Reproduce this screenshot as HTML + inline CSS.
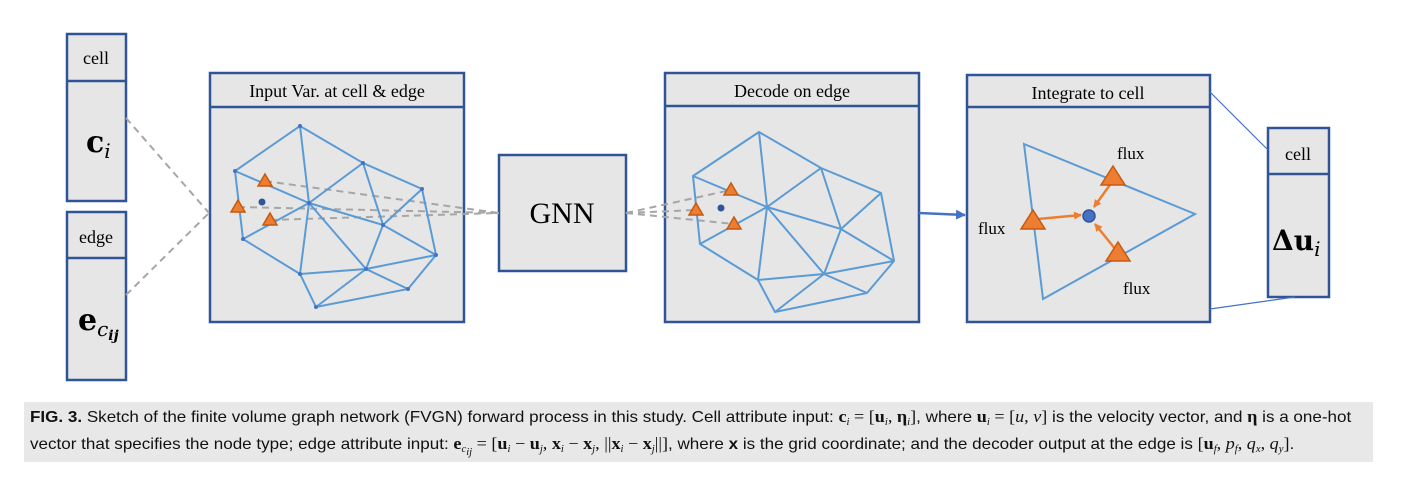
<!DOCTYPE html>
<html><head><meta charset="utf-8"><style>
body{margin:0;background:#fff;width:1403px;height:481px;overflow:hidden;position:relative;font-family:"Liberation Serif",serif}
.cap{position:absolute;left:24px;top:402px;width:1349px;height:60px;background:#e8e8e8}
.cap p{margin:0;position:absolute;left:6px;font-family:"Liberation Sans",sans-serif;font-size:16px;line-height:18px;color:#111;white-space:nowrap;transform:scaleX(1.065);transform-origin:left}
.m{font-family:"Liberation Serif",serif;font-size:17px}
sub{font-size:10px;line-height:0;vertical-align:-3px}
</style></head><body>
<svg width="1403" height="400" style="position:absolute;left:0;top:0" font-family="Liberation Serif, serif">
<defs><marker id="ob" markerWidth="8" markerHeight="8" refX="7" refY="4" orient="auto" markerUnits="userSpaceOnUse"><path d="M0,0L8,4L0,8z" fill="#ed7d31"/></marker>
<marker id="bb" markerWidth="10" markerHeight="10" refX="9" refY="5" orient="auto" markerUnits="userSpaceOnUse"><path d="M0,0L10,5L0,10z" fill="#4472c4"/></marker></defs>
<g fill="#e6e6e6" stroke="#2f5597" stroke-width="2.5">
<rect x="67" y="34" width="59" height="167"/><line x1="67" y1="81" x2="126" y2="81"/>
<rect x="67" y="212" width="59" height="168"/><line x1="67" y1="258" x2="126" y2="258"/>
<rect x="210" y="73" width="254" height="249"/><line x1="210" y1="107" x2="464" y2="107"/>
<rect x="499" y="155" width="127" height="116"/>
<rect x="665" y="73" width="254" height="249"/><line x1="665" y1="106" x2="919" y2="106"/>
<rect x="967" y="75" width="243" height="247"/><line x1="967" y1="107" x2="1210" y2="107"/>
<rect x="1268" y="128" width="61" height="169"/><line x1="1268" y1="174" x2="1329" y2="174"/>
</g>
<g font-size="18" text-anchor="middle" fill="#000">
<text x="96" y="64">cell</text><text x="96" y="243">edge</text>
<text x="337" y="97">Input Var. at cell &amp; edge</text>
<text x="792" y="97">Decode on edge</text>
<text x="1088" y="99">Integrate to cell</text>
<text x="1298" y="160">cell</text>
<text x="562" y="223" font-size="30">GNN</text>
</g>
<text x="86" y="152" font-size="30" font-weight="bold" font-family="DejaVu Serif, serif">c<tspan font-size="20" font-style="italic" font-weight="normal" dy="6">i</tspan></text>
<text x="78" y="330" font-size="30" font-weight="bold" font-family="DejaVu Serif, serif">e<tspan font-size="20" font-style="italic" font-weight="normal" dy="6">c</tspan><tspan font-size="14" font-style="italic" font-weight="bold" dy="4">ij</tspan></text>
<text x="1272" y="250" font-size="28" font-weight="bold" font-family="DejaVu Serif, serif">Δu<tspan font-size="20" font-style="italic" font-weight="normal" dy="6">i</tspan></text>
<g stroke="#a6a6a6" stroke-width="2" stroke-dasharray="7,5" fill="none">
<line x1="126" y1="118" x2="209" y2="213"/><line x1="126" y1="295" x2="209" y2="213"/>
<line x1="265" y1="181" x2="499" y2="213"/><line x1="238" y1="207" x2="499" y2="213"/><line x1="270" y1="220" x2="499" y2="213"/>
<line x1="626" y1="213" x2="731" y2="190"/><line x1="626" y1="213" x2="696" y2="210"/><line x1="626" y1="213" x2="734" y2="224"/>
</g>
<g stroke="#5b9bd5" stroke-width="2" fill="none">
<path d="M300,126L235,171L243,239L300,274L316,307L408,289L436,255L422,189L363,163Z M235,171L309,203L300,126 M363,163L309,203L243,239 M309,203L300,274 M309,203L366,269 M309,203L383,225L363,163 M383,225L422,189 M383,225L436,255 M383,225L366,269 M300,274L366,269L436,255 M366,269L408,289 M366,269L316,307"/>
<path d="M759,132L693,176L700,244L758,280L775,312L867,293L894,261L881,193L821,168Z M693,176L767,207L759,132 M821,168L767,207L700,244 M767,207L758,280 M767,207L824,274 M767,207L841,229L821,168 M841,229L881,193 M841,229L894,261 M841,229L824,274 M758,280L824,274L894,261 M824,274L867,293 M824,274L775,312"/>
<path d="M1024,144L1195,214L1043,299Z"/>
</g>
<g fill="#4472c4">
<circle cx="300" cy="126" r="2"/><circle cx="235" cy="171" r="2"/><circle cx="363" cy="163" r="2"/><circle cx="422" cy="189" r="2"/><circle cx="309" cy="203" r="2"/><circle cx="383" cy="225" r="2"/><circle cx="243" cy="239" r="2"/><circle cx="436" cy="255" r="2"/><circle cx="300" cy="274" r="2"/><circle cx="366" cy="269" r="2"/><circle cx="408" cy="289" r="2"/><circle cx="316" cy="307" r="2"/>
<circle cx="262" cy="202" r="3.5" fill="#2f5597"/><circle cx="721" cy="208" r="3.5" fill="#2f5597"/>
</g>
<g fill="#ed7d31" stroke="#c55a11" stroke-width="1.5">
<path d="M265,174l7,12h-14z"/><path d="M238,200l7,12h-14z"/><path d="M270,213l7,12h-14z"/>
<path d="M731,183l7,12h-14z"/><path d="M696,203l7,12h-14z"/><path d="M734,217l7,12h-14z"/>
</g>
<g stroke="#ed7d31" stroke-width="2.5" marker-end="url(#ob)">
<line x1="1038" y1="219" x2="1081" y2="215"/><line x1="1112" y1="182" x2="1094" y2="207"/><line x1="1116" y1="250" x2="1095" y2="224"/>
</g>
<g fill="#ed7d31" stroke="#c55a11" stroke-width="1.5">
<path d="M1113,166l12,19h-24z"/><path d="M1033,210l12,19h-24z"/><path d="M1118,242l12,19h-24z"/>
</g>
<circle cx="1089" cy="216" r="6" fill="#4472c4" stroke="#2f5597" stroke-width="1.5"/>
<g font-size="17" fill="#000"><text x="1117" y="159">flux</text><text x="978" y="234">flux</text><text x="1123" y="294">flux</text></g>
<line x1="919" y1="213" x2="965" y2="215" stroke="#4472c4" stroke-width="2.5" marker-end="url(#bb)"/>
<g stroke="#4472c4" stroke-width="1.2"><line x1="1210" y1="92" x2="1268" y2="150"/><line x1="1210" y1="309" x2="1295" y2="297"/></g>
</svg>
<div class="cap">
<p style="top:6px"><b>FIG. 3.</b> Sketch of the finite volume graph network (FVGN) forward process in this study. Cell attribute input: <span class="m"><b>c</b><sub><i>i</i></sub> = [<b>u</b><sub><i>i</i></sub>, <b>η</b><sub><i>i</i></sub>]</span>, where <span class="m"><b>u</b><sub><i>i</i></sub> = [<i>u</i>, <i>v</i>]</span> is the velocity vector, and <span class="m"><b>η</b></span> is a one-hot</p>
<p style="top:33px">vector that specifies the node type; edge attribute input: <span class="m"><b>e</b><sub><i>c<sub>ij</sub></i></sub> = [<b>u</b><sub><i>i</i></sub> − <b>u</b><sub><i>j</i></sub>, <b>x</b><sub><i>i</i></sub> − <b>x</b><sub><i>j</i></sub>, ||<b>x</b><sub><i>i</i></sub> − <b>x</b><sub><i>j</i></sub>||]</span>, where <b>x</b> is the grid coordinate; and the decoder output at the edge is <span class="m">[<b>u</b><sub><i>f</i></sub>, <i>p</i><sub><i>f</i></sub>, <i>q</i><sub><i>x</i></sub>, <i>q</i><sub><i>y</i></sub>]</span>.</p>
</div>
</body></html>
